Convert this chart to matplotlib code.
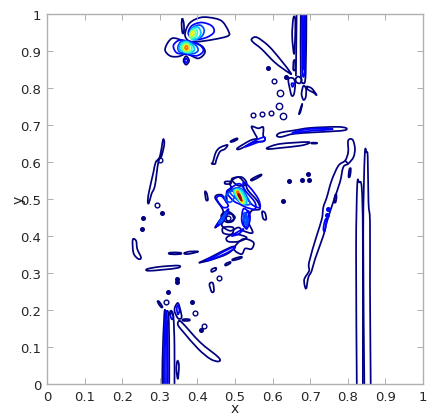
import matplotlib
matplotlib.use('Agg')
import matplotlib.pyplot as plt
from matplotlib import cm
from matplotlib.path import Path
from matplotlib.patches import PathPatch

# contour traces, grouped by level (0 = lowest)
level0 = [
    # top butterfly
    ([.367,.380,.411,.447,.467,.482,.482,.442,.398,.376], [.946,.976,.991,.988,.979,.955,.941,.931,.925,.928]),
    ([.363,.332,.314,.327,.349,.372,.402,.420,.411,.380], [.928,.934,.905,.887,.885,.892,.880,.896,.914,.925]),
    ([.363,.370,.378,.370], [.874,.886,.874,.863]),
    ([.360,.364,.364,.360,.358], [.988,.973,.950,.950,.973]),
    # upper right
    ([.544,.558,.589,.620,.648,.642,.606,.571,.549], [.932,.937,.914,.878,.841,.842,.869,.905,.923]),
    ([.655,.652,.657,.660,.660], [.988,.941,.892,.941,.988]),
    ([.656,.655,.660,.660], [.873,.850,.850,.873]),
    ([.661,.668,.677,.673,.664], [.824,.831,.824,.813,.815]),
    ([.642,.655,.660,.657,.651,.646], [.824,.826,.811,.784,.779,.797]),
    ([.682,.689,.688,.682,.677], [.806,.797,.775,.768,.784]),
    ([.690,.704,.717,.708,.695], [.804,.799,.781,.788,.795]),
    ([.670,.676,.679,.674], [.730,.750,.757,.735]),
    ([.544,.562,.575,.575,.580,.575,.549,.513,.507,.540,.558,.553], [.696,.691,.694,.671,.664,.656,.653,.635,.638,.658,.664,.676]),
    ([.612,.624,.655,.699,.770,.795,.793,.761,.708,.655,.624,.613], [.674,.680,.685,.692,.695,.692,.686,.683,.680,.676,.668,.669]),
    ([.587,.620,.691,.695,.673,.620,.589], [.639,.649,.654,.650,.644,.638,.635]),
    ([.704,.717,.717,.704], [.652,.652,.650,.650]),
    ([.489,.505,.505,.491], [.657,.664,.660,.654]),
    ([.441,.449,.460,.480,.473,.460,.451,.447,.438], [.599,.626,.639,.646,.635,.628,.608,.595,.596]),
    # long diagonal on the right and tall loops
    ([.689,.684,.697,.697,.717,.731,.735,.744,.757,.775,.793,.801,.801,.813,.819,.815,.801,.788,.779,.761,.744,.735,.713,.704,.695],
     [.257,.282,.306,.329,.400,.446,.478,.504,.550,.590,.604,.627,.658,.660,.636,.613,.595,.586,.545,.491,.437,.401,.338,.306,.288]),
    ([.804,.808,.806,.802], [.580,.582,.562,.560]),
    ([.766,.770,.768,.764], [.510,.510,.492,.492]),
    # left side
    ([.309,.312,.305,.296,.287,.278,.271,.268,.271,.283,.289,.299,.305], [.662,.649,.617,.599,.536,.514,.489,.493,.518,.572,.599,.612,.639]),
    ([.228,.237,.240,.250,.243,.230], [.390,.387,.365,.342,.338,.354]),
    ([.267,.301,.349,.349,.309,.269], [.311,.317,.320,.314,.309,.306]),
    ([.327,.354,.354,.327], [.355,.355,.351,.351]),
    ([.365,.380,.402,.385,.370], [.354,.358,.358,.353,.351]),
    ([.407,.434,.487,.500,.478,.438,.411], [.329,.342,.369,.369,.351,.336,.329]),
    ([.438,.449,.449,.438], [.310,.314,.308,.303]),
    ([.475,.487,.487,.475], [.325,.330,.326,.320]),
    ([.495,.516,.516,.495], [.338,.344,.340,.334]),
    ([.432,.441,.444,.438], [.270,.273,.252,.249]),
    # bottom left
    ([.340,.348,.354,.358,.349,.340], [.207,.219,.203,.180,.177,.194]),
    ([.347,.351,.348,.344], [.063,.049,.014,.041]),
    ([.349,.358,.407,.456,.456,.434,.402,.363,.349], [.167,.167,.113,.072,.061,.068,.095,.140,.158]),
    ([.294,.298,.307,.303], [.222,.223,.209,.208]),
    ([.362,.378,.378,.362], [.175,.175,.171,.171]),
    # central cluster outlines
    ([.487,.509,.527,.535,.559,.566,.544,.535,.547,.522,.509,.487,.465,.469,.447,.469,.447,.465,.478,.478,.491],
     [.545,.559,.541,.523,.495,.473,.468,.441,.409,.414,.423,.414,.428,.441,.423,.464,.504,.511,.491,.518,.527]),
    ([.478,.500,.531,.509,.482], [.396,.405,.396,.385,.385]),
    ([.469,.495,.491,.469], [.423,.423,.405,.408]),
    ([.500,.522,.549,.544,.527,.518,.500], [.372,.392,.383,.365,.366,.351,.360]),
    ([.476,.492,.496,.480], [.458,.458,.442,.438]),
    ([.465,.482,.500,.482,.466], [.459,.466,.450,.437,.446]),
    ([.491,.518,.531,.509], [.554,.559,.541,.536]),
    ([.544,.568,.568,.546], [.554,.566,.562,.550]),
    ([.474,.488,.488,.474], [.547,.547,.541,.541]),
    ([.420,.425,.428,.423], [.520,.515,.498,.498]),
    ([.572,.580,.583,.575], [.466,.462,.445,.447]),
]

# loops cut off by the axes, drawn open
open0 = [
    ([.675,.675,.682,.688,.690], [1.01,.840,.813,.840,1.01]),
    ([.664,.662], [1.01,.832]),
    ([.824,.822,.825,.830,.837,.840,.840], [-.01,.356,.536,.545,.531,.401,-.01]),
    ([.844,.841,.845,.850,.853,.855,.859,.859,.861], [-.01,.401,.617,.626,.613,.491,.437,.266,-.01]),
    ([.307,.307,.312,.316,.323,.325,.325], [-.01,.059,.189,.195,.189,.103,-.01]),
    ([.325,.329,.336,.339,.339], [.185,.198,.183,.103,-.01]),
    ([.793,.801], [.604,.595]),
]

open1 = [
    ([.678,.679,.682,.686,.687], [1.01,.860,.830,.860,1.01]),
    ([.680,.681,.682,.684,.685], [1.01,.880,.850,.880,1.01]),
    ([.311,.311,.315,.319,.321,.321], [-.01,.080,.185,.185,.080,-.01]),
    ([.314,.314,.317,.319,.319], [-.01,.100,.170,.100,-.01]),
]

level1 = [
    ([.376,.385,.411,.438,.444,.425,.394], [.946,.968,.977,.968,.951,.937,.931]),
    ([.336,.349,.367,.402,.416,.398,.367,.345], [.914,.928,.928,.919,.901,.887,.892,.895]),
    ([.366,.370,.374,.370], [.874,.880,.874,.868]),
    ([.650,.657,.653], [.812,.812,.803]),
    ([.540,.560,.578,.578,.560,.528], [.650,.661,.667,.657,.653,.641]),
    ([.655,.690,.740,.758,.700,.660], [.680,.688,.691,.688,.684,.678]),
    ([.735,.739,.744,.739], [.419,.441,.446,.414]),
    ([.425,.450,.490,.498,.470,.430], [.336,.347,.368,.366,.350,.334]),
    ([.345,.349,.352,.348], [.205,.213,.198,.188]),
    ([.328,.332,.336,.332], [.186,.193,.180,.175]),
    ([.451,.465,.482,.478,.460], [.428,.450,.473,.455,.432]),
    ([.451,.465,.482,.469,.456], [.504,.507,.482,.477,.491]),
    ([.522,.535,.535,.527,.518], [.473,.464,.437,.423,.441]),
    ([.535,.540,.531,.522], [.468,.446,.419,.441]),
    ([.491,.522,.509], [.401,.419,.405]),
    ([.522,.540,.562,.566,.544,.527], [.545,.531,.500,.477,.486,.514]),
    ([.478,.491,.513,.531,.553,.553,.531,.513,.496], [.518,.531,.541,.518,.491,.473,.477,.486,.495]),
]

level2 = [
    ([.378,.389,.407,.418,.411,.389], [.946,.964,.970,.957,.939,.931]),
    ([.348,.356,.372,.395,.402,.390,.368,.352], [.910,.925,.927,.916,.902,.893,.894,.898]),
    ([.487,.500,.518,.535,.540,.522,.504], [.518,.529,.527,.500,.486,.486,.500]),
    ([.457,.468,.478,.466], [.435,.452,.465,.440]),
    ([.524,.530,.530,.524], [.462,.458,.436,.440]),
    ([.530,.535,.531,.526], [.455,.443,.428,.441]),
    ([.473,.491,.500,.487], [.504,.522,.509,.491]),
]

level3 = [
    ([.381,.389,.402,.409,.404,.388], [.944,.962,.964,.951,.937,.931]),
    ([.352,.360,.372,.388,.392,.382,.368,.356], [.910,.922,.925,.915,.903,.895,.897,.901]),
    ([.497,.506,.519,.530,.530,.516,.503], [.520,.527,.522,.501,.488,.491,.507]),
]

level4 = [
    ([.380,.386,.396,.400,.395,.384], [.946,.958,.960,.949,.938,.933]),
    ([.356,.362,.372,.384,.384,.374,.364], [.910,.920,.923,.913,.900,.896,.899]),
    ([.499,.506,.517,.527,.525,.513,.503], [.521,.525,.518,.498,.487,.494,.510]),
]

level5 = [
    ([.380,.385,.392,.394,.389,.382], [.946,.954,.955,.947,.940,.936]),
    ([.360,.366,.374,.379,.378,.370,.363], [.910,.918,.919,.909,.900,.899,.902]),
    ([.501,.507,.515,.524,.521,.511], [.520,.523,.512,.493,.489,.502]),
]

level6 = [
    ([.383,.387,.390,.388,.384], [.946,.952,.950,.944,.942]),
    ([.364,.370,.375,.374,.369], [.909,.916,.913,.903,.902]),
    ([.503,.507,.513,.521,.518,.510], [.520,.521,.509,.491,.490,.504]),
]

level7 = [
    ([.367,.371,.374,.371], [.909,.914,.908,.904]),
    ([.505,.509,.516,.519,.512], [.518,.519,.501,.494,.505]),
]

level8 = [
    ([.508,.513,.517,.514], [.513,.510,.497,.500]),
]

# tiny closed contours, too small to trace
dot_x = [.589,.635,.644,.628,.677,.697,.695,.321,.347,.347,.385,.410,.305,.253,.255]
dot_y = [.854,.831,.549,.494,.551,.551,.568,.250,.284,.275,.221,.146,.462,.419,.448]
ring_x = [.603,.547,.573,.595,.316,.394,.418,.458,.300,.292,.482]
ring_y = [.820,.728,.730,.732,.222,.191,.156,.286,.605,.484,.450]
big_ring_x = [.620,.617,.628]
big_ring_y = [.786,.751,.723]
blue_dot_x = [.748,.745]
blue_dot_y = [.473,.457]

level_colors = [0.0, 0.11, 0.2, 0.32, 0.4, 0.52, 0.65, 0.8, 0.97]
ticks = [0, .1, .2, .3, .4, .5, .6, .7, .8, .9, 1]
tick_labels = ['0', '0.1', '0.2', '0.3', '0.4', '0.5', '0.6', '0.7', '0.8', '0.9', '1']

LW = 1.25


def add_trace(ax, xs, ys, color, closed=True):
    # rounded curve through the traced points (Catmull-Rom as Bezier segments)
    pts = list(zip(xs, ys))
    n = len(pts)
    verts = [pts[0]]
    codes = [Path.MOVETO]
    last = n if closed else n - 1
    for i in range(last):
        if closed:
            p0, p1, p2, p3 = pts[i - 1], pts[i], pts[(i + 1) % n], pts[(i + 2) % n]
        else:
            p0, p1, p2, p3 = pts[max(i - 1, 0)], pts[i], pts[i + 1], pts[min(i + 2, n - 1)]
        verts.append((p1[0] + (p2[0] - p0[0]) / 6, p1[1] + (p2[1] - p0[1]) / 6))
        verts.append((p2[0] - (p3[0] - p1[0]) / 6, p2[1] - (p3[1] - p1[1]) / 6))
        verts.append(p2)
        codes += [Path.CURVE4] * 3
    ax.add_patch(PathPatch(Path(verts, codes), fc='none', ec=color, lw=LW, joinstyle='round'))


fig = plt.figure(figsize=(4.33, 4.14), dpi=100)
ax = fig.add_axes([47 / 433, 29 / 414, 376 / 433, 370 / 414])

closed_levels = [level0, level1, level2, level3, level4, level5, level6, level7, level8]
for i, traces in enumerate(closed_levels):
    c = cm.jet(level_colors[i])
    for xs, ys in traces:
        add_trace(ax, xs, ys, c)
for xs, ys in open0:
    add_trace(ax, xs, ys, cm.jet(0.0), closed=False)
for xs, ys in open1:
    add_trace(ax, xs, ys, cm.jet(0.11), closed=False)

ax.plot(dot_x, dot_y, 'o', color=cm.jet(0.0), ms=2.6)
ax.plot(ring_x, ring_y, 'o', mfc='none', mec=cm.jet(0.0), ms=3.4, mew=1.0)
ax.plot(big_ring_x, big_ring_y, 'o', mfc='none', mec=cm.jet(0.0), ms=4.6, mew=1.0)
ax.plot(blue_dot_x, blue_dot_y, 'o', color=cm.jet(0.11), ms=2.6)

ax.set_xlim(0, 1)
ax.set_ylim(0, 1)
ax.set_xticks(ticks, tick_labels)
ax.set_yticks(ticks, tick_labels)
ax.tick_params(direction='in', length=4, width=0.7, color='#b0b0b0', top=True, right=True,
               labelsize=9.5, labelcolor='#262626', pad=4)
for s in ax.spines.values():
    s.set_color('#b0b0b0')
    s.set_linewidth(1.0)

ax.set_xlabel('x', fontsize=10, color='#262626')
ax.set_ylabel('y', fontsize=10, color='#262626')
ax.xaxis.set_label_coords(0.5, -0.045)
ax.yaxis.set_label_coords(-0.057, 0.5)

fig.savefig('out.png', dpi=100)
